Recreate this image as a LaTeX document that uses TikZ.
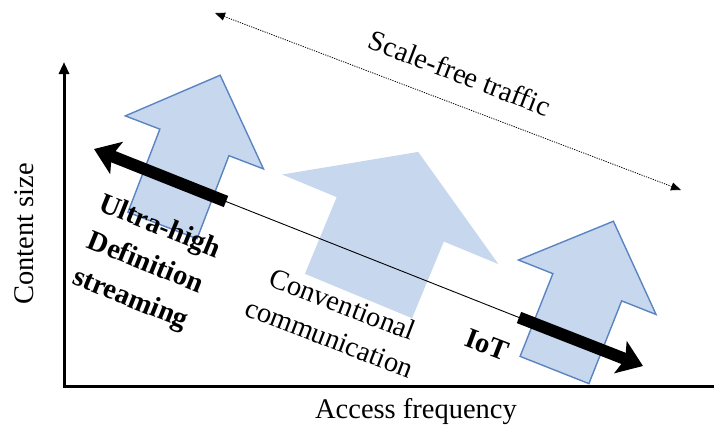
\documentclass[tikz,border=0pt]{standalone}
\usepackage{fontspec}
\setmainfont{Liberation Serif}
\usetikzlibrary{arrows.meta}

\definecolor{arrowfill}{HTML}{C6D7EE}
\definecolor{arrowedge}{HTML}{5A85C2}

\tikzset{
  axisline/.style={line width=3pt},
  bluearrow/.style={fill=arrowfill, draw=arrowedge, line width=1.4pt, line join=miter},
  bluearrowplain/.style={fill=arrowfill, draw=none},
  trendarrow/.style={line width=12pt, -{Stealth[length=24pt,width=34pt,inset=5pt]}},
  trendline/.style={line width=0.9pt},
  spanarrow/.style={line width=0.8pt, dash pattern=on 1.2pt off 1.2pt,
    {Triangle[length=10pt,width=8pt]}-{Triangle[length=10pt,width=8pt]}},
  labeltext/.style={font=\fontsize{28.5}{36}\selectfont, inner sep=0pt},
  boldlabel/.style={font=\fontsize{28.5}{39}\selectfont\bfseries, inner sep=0pt}
}

\begin{document}
\begin{tikzpicture}[x=1pt,y=-1pt]
\useasboundingbox (0,0) rectangle (714,434);

% wide up-arrows marking the three traffic classes
\begin{scope}[shift={(162.5,225.5)}, rotate=-21]
  \path[bluearrow] (-37,0) -- (-37,-89) -- (-74,-89) -- (0,-161)
    -- (74,-89) -- (37,-89) -- (37,0) -- cycle;
\end{scope}
\begin{scope}[shift={(358.5,296)}, rotate=-22.5]
  \path[bluearrowplain] (-58,0) -- (-58,-83) -- (-117,-83) -- (0,-156)
    -- (117,-83) -- (58,-83) -- (58,0) -- cycle;
\end{scope}
\begin{scope}[shift={(554.5,370)}, rotate=-21.6]
  \path[bluearrow] (-37,0) -- (-37,-89) -- (-74,-89) -- (0,-160)
    -- (74,-89) -- (37,-89) -- (37,0) -- cycle;
\end{scope}

% axes
\coordinate (origin) at (64,386);
\coordinate (ytop) at (64,62);
\coordinate (xend) at (714,386);
\draw[axisline, -{Triangle[length=12pt,width=10pt]}] (64,387.5) -- (ytop);
\draw[axisline] (62.5,386) -- (xend);

% trend line with its two heavy ends
\coordinate (ltip) at (94,149);
\coordinate (ltail) at (226,201.5);
\coordinate (rtail) at (519,317.5);
\coordinate (rtip) at (643,366);
\draw[trendline] (ltail) -- (rtail);
\draw[trendarrow] (ltail) -- (ltip);
\draw[trendarrow] (rtail) -- (rtip);

% scale-free span
\coordinate (sleft) at (215,13);
\coordinate (sright) at (681,190);
\draw[spanarrow] (sleft) -- (sright);

% labels
\node[labeltext, rotate=-21] (scale) at (460,73) {Scale-free traffic};
\node[boldlabel, rotate=-22, align=center] (uhd) at (145,264)
  {Ultra-high\\Definition\\streaming};
\node[labeltext, rotate=-21, align=center] (conv) at (336,321)
  {Conventional\\communication};
\node[boldlabel, rotate=-21] (iot) at (487,345) {IoT};
\node[labeltext] (xlabel) at (416,412) {Access frequency};
\node[labeltext, rotate=90] (ylabel) at (24,234) {Content size};
\end{tikzpicture}
\end{document}
